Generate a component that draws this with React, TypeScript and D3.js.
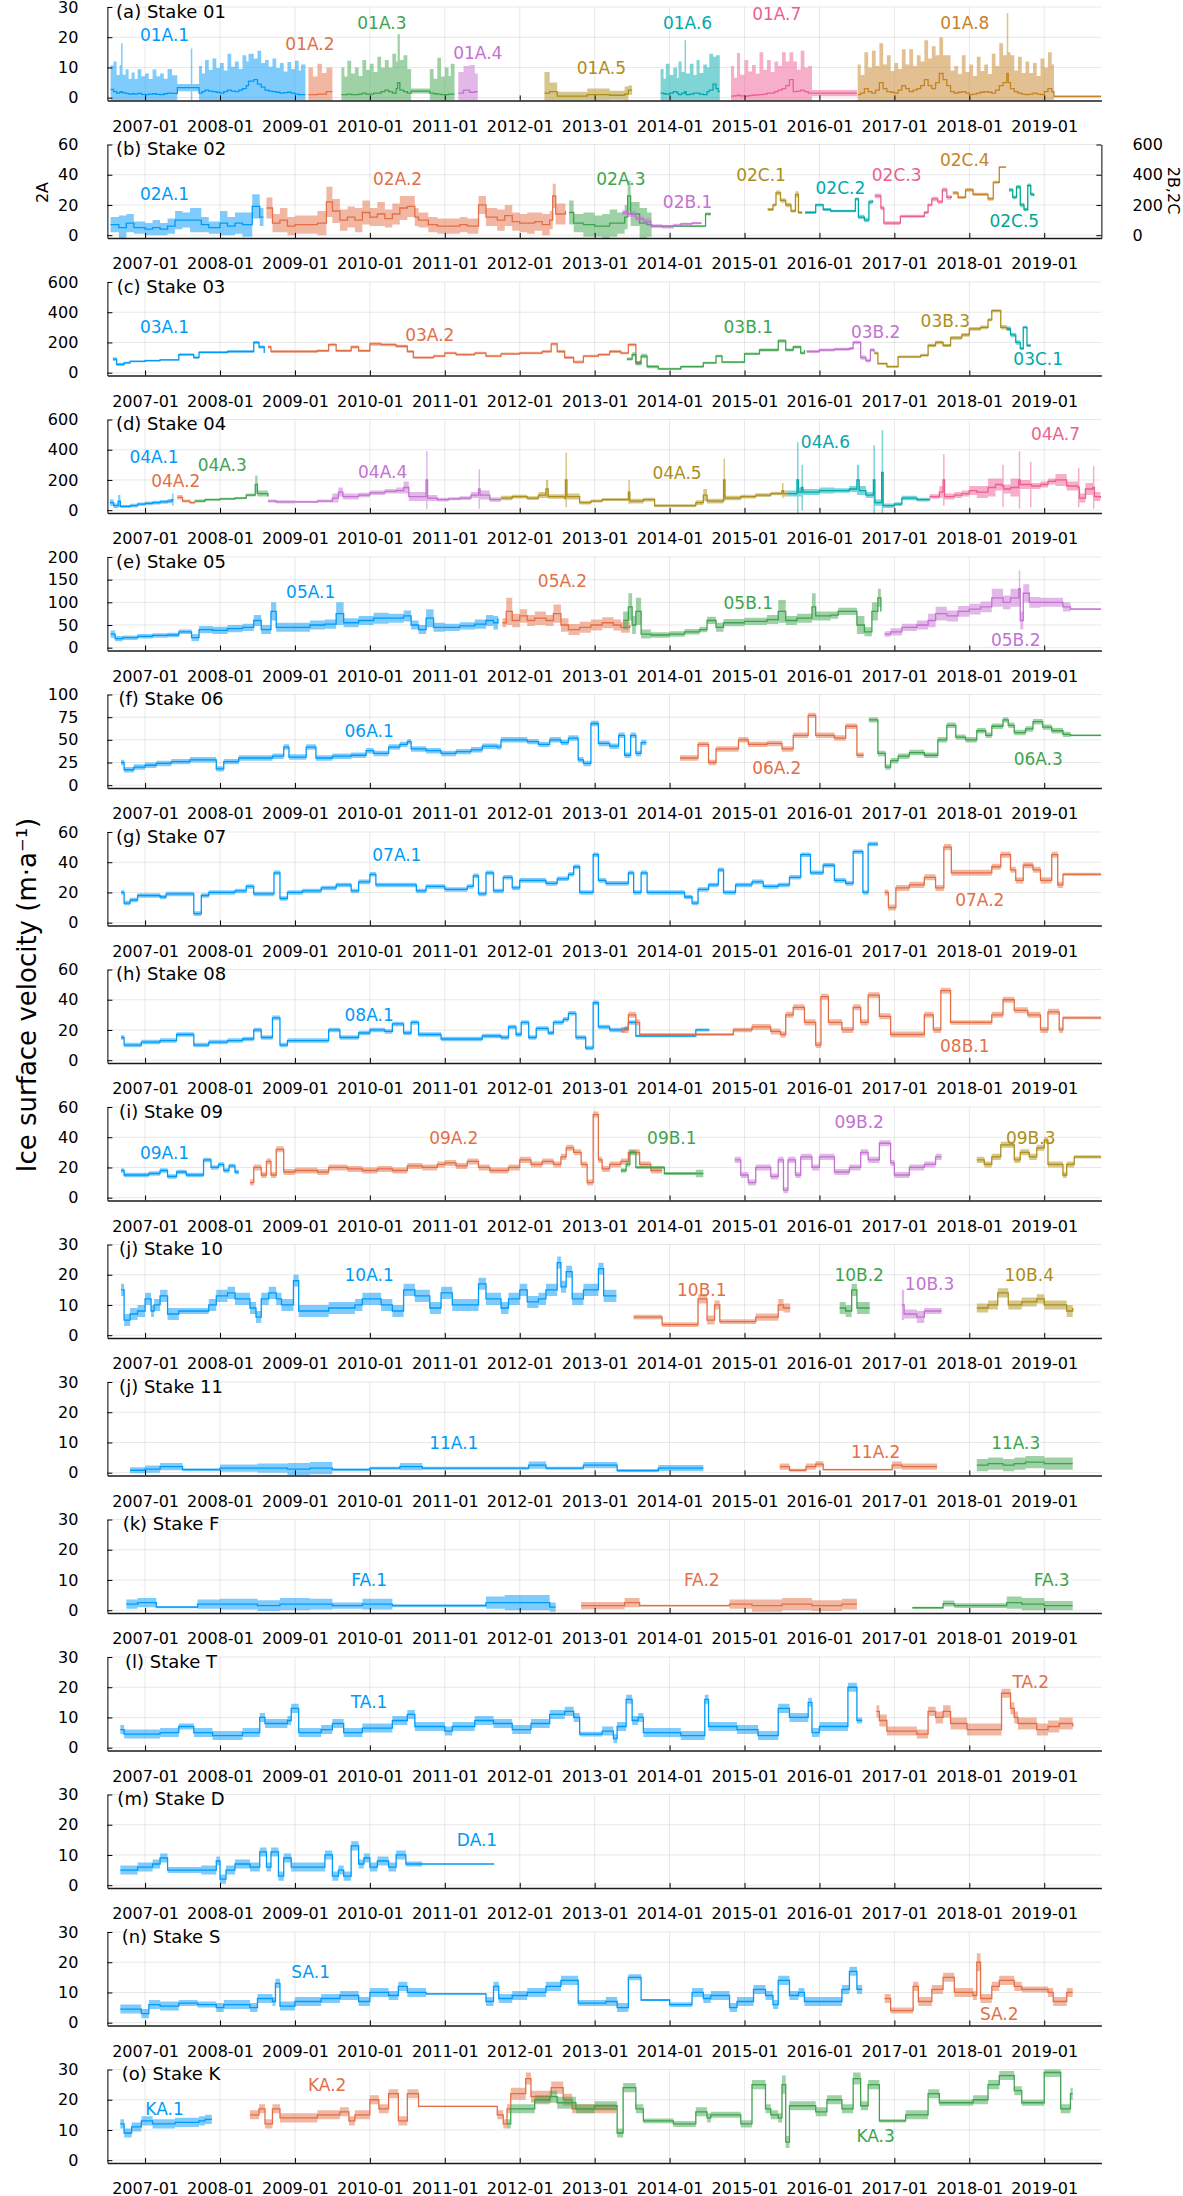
import { useEffect, useRef } from 'react'
import * as d3 from 'd3'

// Plots.jl default palette, in series order
const PALETTE = ['#009afa', '#e36f47', '#3ea44e', '#c371d2', '#ac8e18', '#00a9ad', '#ed5e93', '#c68225', '#00a98d']

const yearTicks = d3.range(2007, 2020)

// Each row: [decimal year, velocity, half-width of the shaded band]
// ---- Stake 01 ----
const s01A1 = [[2006.54,2.7,8],[2006.58,2,10],[2006.62,1.5,6],[2006.66,1.8,9],[2006.68,2,16],[2006.7,1.6,6],[2006.74,1.4,8],[2006.78,1.2,5],[2006.82,1.3,7],[2006.86,1.2,5],[2006.9,1.4,8],[2006.95,1.1,6],[2007.0,1,7],[2007.05,1.2,5],[2007.1,1.3,8],[2007.15,1.1,6],[2007.2,1,7],[2007.25,1.3,5],[2007.3,1.5,8],[2007.36,1.4,6],[2007.43,3.3,1.2],[2007.61,3.3,13],[2007.63,3.3,1.2],[2007.72,1.5,9],[2007.76,2,6],[2007.8,2.5,10],[2007.85,2.2,7],[2007.9,2,11],[2007.95,1.8,8],[2008.0,1.5,10],[2008.05,2,7],[2008.1,2.5,12],[2008.15,2.2,8],[2008.2,2,10],[2008.25,2.5,7],[2008.3,3,11],[2008.35,4,8],[2008.38,5.5,9],[2008.45,6,7],[2008.5,4.5,11],[2008.55,3.5,8],[2008.6,2.5,10],[2008.65,2.2,8],[2008.7,2,11],[2008.75,1.8,8],[2008.8,1.5,10],[2008.85,1.7,7],[2008.9,1.8,10],[2008.95,1.5,8],[2009.0,1.2,11],[2009.05,1,8],[2009.08,1,10],[2009.14,1,9]]
const s01A2 = [[2009.18,1,9],[2009.24,1,6],[2009.3,1.2,10],[2009.36,1.2,7],[2009.42,2,8],[2009.5,2,8]]
const s01A3 = [[2009.62,1,9],[2009.66,1,6],[2009.7,1.2,11],[2009.75,1,7],[2009.8,1,9],[2009.85,1.2,6],[2009.9,1.5,11],[2009.95,1.2,8],[2010.0,1.2,10],[2010.05,1.5,7],[2010.1,1.5,12],[2010.15,2,8],[2010.2,2.5,10],[2010.25,2,8],[2010.3,1.5,13],[2010.35,3,9],[2010.37,5,16],[2010.4,2.5,10],[2010.45,2,12],[2010.5,1.5,8],[2010.55,2.2,0.8],[2010.8,1.5,8],[2010.85,1.3,5],[2010.9,1.2,12],[2010.95,1,6],[2011.0,1,9],[2011.05,1.2,6],[2011.08,1.2,10],[2011.13,1.2,10]]
const s01A4 = [[2011.18,1.5,7],[2011.25,2.5,8],[2011.33,1.8,9],[2011.4,2,6],[2011.44,2,6]]
const s01A5 = [[2012.33,1.5,7],[2012.4,2,3],[2012.5,0.5,1.5],[2012.8,0.5,1.5],[2012.9,1,2],[2013.2,0.8,1.5],[2013.4,1.2,2.5],[2013.45,2.5,1.5],[2013.5,2.5,1.5]]
const s01A6 = [[2013.88,1.5,8],[2013.92,1.3,5],[2013.95,1.2,10],[2014.0,1.5,6],[2014.05,2,8],[2014.1,1.5,5],[2014.12,1,11],[2014.16,1.5,7],[2014.2,2,17],[2014.22,1,7],[2014.27,1.2,10],[2014.32,1.5,6],[2014.36,1.5,11],[2014.4,1.2,7],[2014.45,1,10],[2014.5,2,8],[2014.53,2.5,12],[2014.58,4.5,9],[2014.62,3,11],[2014.65,2,12],[2014.67,2,12]]
const s01A7 = [[2014.82,0.5,10],[2014.86,0.6,6],[2014.9,0.8,14],[2014.94,0.6,7],[2015.0,0.5,12],[2015.05,0.7,8],[2015.1,0.8,10],[2015.15,0.9,7],[2015.2,1,14],[2015.25,1.2,8],[2015.3,1.5,11],[2015.35,1.5,7],[2015.4,2,10],[2015.45,2.5,8],[2015.5,3,12],[2015.55,4,8],[2015.6,6,9],[2015.65,2,10],[2015.7,2.2,7],[2015.75,2.5,13],[2015.8,2,8],[2015.85,1.5,9],[2015.9,1.5,1],[2016.5,1.5,1]]
const s01A8 = [[2016.51,1,10],[2016.55,1.5,6],[2016.6,3,12],[2016.65,2,8],[2016.7,1.5,14],[2016.75,2.5,8],[2016.8,5,13],[2016.85,3,8],[2016.9,2,12],[2016.95,1.8,7],[2017.0,1.5,10],[2017.05,2.5,7],[2017.1,4,12],[2017.15,3,8],[2017.2,2,14],[2017.25,2.5,8],[2017.3,3,11],[2017.35,4,8],[2017.4,6,13],[2017.45,4,9],[2017.5,3,14],[2017.55,5,9],[2017.6,8,12],[2017.65,6,8],[2017.7,4,10],[2017.75,2,7],[2017.8,1.5,9],[2017.85,1.8,6],[2017.9,2,12],[2017.95,1.5,7],[2018.0,1,10],[2018.05,1.2,6],[2018.1,1.5,12],[2018.15,1.8,7],[2018.2,2,9],[2018.25,1.8,6],[2018.3,1.5,13],[2018.35,2.5,8],[2018.4,4,14],[2018.45,5,9],[2018.5,8,20],[2018.52,5,10],[2018.55,3,11],[2018.6,2,7],[2018.65,1.5,12],[2018.7,1.2,7],[2018.75,1,11],[2018.8,1.2,7],[2018.85,1.5,10],[2018.9,1.2,6],[2018.95,1,12],[2019.0,2,8],[2019.05,3,12],[2019.1,2,9],[2019.13,0.4,0.3],[2019.76,0.4,0.3]]

// ---- Stake 02 (2A on left axis, 2B/2C on right axis) ----
const s02A1 = [[2006.54,7,5],[2006.65,5,8],[2006.75,8,6],[2006.85,5,4],[2007.0,4,4],[2007.1,5,5],[2007.2,4,4],[2007.3,6,5],[2007.4,10,6],[2007.5,10,5],[2007.6,10,8],[2007.75,7,5],[2007.85,5,4],[2008.0,8,8],[2008.1,6,6],[2008.2,8,7],[2008.3,7,8],[2008.43,19,8],[2008.53,12,6],[2008.58,12,6]]
const s02A2 = [[2008.62,18,7],[2008.7,8,6],[2008.8,10,8],[2008.9,6,6],[2009.0,7,6],[2009.1,7,6],[2009.2,7,6],[2009.3,8,8],[2009.42,22,10],[2009.5,16,8],[2009.6,10,7],[2009.7,12,7],[2009.8,10,8],[2009.9,15,8],[2010.0,12,6],[2010.1,14,8],[2010.2,11,6],[2010.3,14,7],[2010.4,18,8],[2010.5,19,7],[2010.6,12,6],[2010.65,10,5],[2010.78,7,5],[2010.9,6,5],[2011.0,6,5],[2011.1,6,5],[2011.2,7,5],[2011.3,6,5],[2011.45,20,6],[2011.55,12,6],[2011.7,10,7],[2011.8,13,7],[2011.9,9,6],[2012.0,8,6],[2012.1,8,7],[2012.2,9,6],[2012.3,7,7],[2012.4,10,6],[2012.44,26,8],[2012.48,14,7],[2012.61,16,4]]
const s02A3 = [[2012.66,15,8],[2012.72,8,6],[2012.85,7,8],[2013.0,6,7],[2013.1,6,8],[2013.2,8,9],[2013.3,8,7],[2013.4,12,8],[2013.44,26,10],[2013.48,14,8],[2013.6,8,10],[2013.7,7,8],[2013.76,6,0.6],[2014.48,14,1],[2014.55,14,1]]
const s02B1 = [[2013.37,150,15],[2013.45,140,20],[2013.55,110,15],[2013.65,90,20],[2013.75,60,12],[2013.9,55,10],[2014.05,65,10],[2014.15,75,8],[2014.3,80,8],[2014.42,75,8]]
const s02C1 = [[2015.31,170,10],[2015.38,200,10],[2015.42,280,15],[2015.48,230,15],[2015.55,200,15],[2015.62,160,10],[2015.68,270,20],[2015.72,150,10],[2015.77,150,10]]
const s02C2 = [[2015.81,150,10],[2015.95,200,10],[2016.05,170,10],[2016.15,160,8],[2016.48,240,10],[2016.52,120,15],[2016.6,100,15],[2016.66,220,15],[2016.71,230,10]]
const s02C3 = [[2016.74,260,15],[2016.82,180,15],[2016.86,80,12],[2017.08,125,10],[2017.4,150,10],[2017.45,200,10],[2017.5,240,15],[2017.58,220,12],[2017.64,300,15],[2017.7,250,15],[2017.76,260,10]]
const s02C4 = [[2017.78,280,12],[2017.85,250,10],[2017.95,300,12],[2018.05,270,10],[2018.25,240,12],[2018.32,350,10],[2018.4,450,6],[2018.49,450,6]]
const s02C5 = [[2018.53,300,12],[2018.58,250,12],[2018.63,320,12],[2018.68,200,15],[2018.73,170,12],[2018.78,330,12],[2018.82,270,12],[2018.86,260,10]]

// ---- Stake 03 ----
const s03A1 = [[2006.57,90,12],[2006.62,55,10],[2006.72,65,8],[2006.8,75,6],[2007.0,80,6],[2007.2,85,6],[2007.45,120,8],[2007.65,100,8],[2007.72,135,8],[2007.9,135,8],[2008.1,140,8],[2008.3,140,8],[2008.45,200,10],[2008.52,170,10],[2008.59,130,8]]
const s03A2 = [[2008.64,170,10],[2008.68,140,8],[2009.0,140,8],[2009.3,145,8],[2009.45,185,10],[2009.55,145,8],[2009.75,170,10],[2009.85,145,8],[2010.0,190,12],[2010.15,185,10],[2010.35,175,10],[2010.5,140,8],[2010.58,100,8],[2010.85,110,8],[2011.0,130,8],[2011.15,120,8],[2011.4,130,8],[2011.55,110,8],[2011.75,125,8],[2012.0,130,8],[2012.3,140,8],[2012.42,190,10],[2012.5,140,10],[2012.6,100,10],[2012.72,70,10],[2012.85,110,8],[2013.05,120,8],[2013.2,140,10],[2013.35,130,8],[2013.45,185,10],[2013.55,70,8],[2013.61,80,8]]
const s03B1 = [[2013.43,90,10],[2013.5,120,15],[2013.55,60,12],[2013.62,110,15],[2013.7,40,10],[2013.85,25,8],[2014.15,40,8],[2014.45,65,8],[2014.62,110,8],[2014.7,70,8],[2015.0,125,8],[2015.2,150,10],[2015.45,210,12],[2015.55,150,10],[2015.65,170,10],[2015.75,130,10],[2015.8,150,10]]
const s03B2 = [[2015.83,140,10],[2016.0,150,10],[2016.2,155,10],[2016.4,160,10],[2016.45,200,12],[2016.55,100,15],[2016.62,80,12],[2016.68,150,12],[2016.73,140,10]]
const s03B3 = [[2016.73,130,10],[2016.78,60,8],[2016.9,40,8],[2017.05,105,8],[2017.35,115,10],[2017.45,180,12],[2017.55,200,12],[2017.65,180,10],[2017.75,230,12],[2017.9,250,12],[2018.0,290,12],[2018.15,300,12],[2018.25,350,10],[2018.3,410,10],[2018.42,300,15],[2018.5,290,10],[2018.55,290,10]]
const s03C1 = [[2018.5,290,15],[2018.55,250,15],[2018.62,200,15],[2018.68,160,10],[2018.72,300,10],[2018.77,180,10],[2018.82,180,10]]

// ---- Stake 04 ----
const s04A1 = [[2006.53,50,20],[2006.58,30,15],[2006.64,60,40],[2006.67,25,10],[2006.8,30,12],[2006.9,40,10],[2007.0,45,12],[2007.1,50,12],[2007.2,55,12],[2007.3,60,14],[2007.36,70,40],[2007.38,70,10]]
const s04A2 = [[2007.43,85,15],[2007.5,60,10],[2007.6,50,8],[2007.66,55,8]]
const s04A3 = [[2007.66,60,10],[2007.8,70,8],[2008.0,75,8],[2008.2,80,8],[2008.35,100,10],[2008.47,170,60],[2008.5,110,20],[2008.64,90,10]]
const s04A4 = [[2008.64,60,10],[2008.75,55,10],[2009.0,55,8],[2009.3,60,10],[2009.5,80,30],[2009.58,120,30],[2009.64,90,20],[2009.85,100,15],[2010.0,115,15],[2010.2,125,15],[2010.35,130,20],[2010.45,150,40],[2010.52,90,30],[2010.75,200,190],[2010.77,80,20],[2010.9,70,12],[2011.05,75,10],[2011.2,80,12],[2011.35,100,20],[2011.45,140,130],[2011.47,100,30],[2011.6,70,15],[2011.75,70,15]]
const s04A5 = [[2011.75,80,15],[2011.9,90,12],[2012.1,80,12],[2012.25,100,20],[2012.35,140,60],[2012.38,90,15],[2012.6,80,15],[2012.61,200,180],[2012.63,90,20],[2012.8,50,12],[2012.95,60,10],[2013.1,70,10],[2013.3,70,10],[2013.45,120,80],[2013.47,60,15],[2013.65,70,12],[2013.8,30,10],[2014.1,30,10],[2014.35,50,15],[2014.45,100,40],[2014.5,60,15],[2014.72,200,140],[2014.74,80,15],[2014.95,90,12],[2015.15,100,12],[2015.35,110,12],[2015.5,130,50],[2015.52,110,20],[2015.57,110,20]]
const s04A6 = [[2015.57,110,20],[2015.7,200,250],[2015.72,120,30],[2015.76,150,150],[2015.78,120,20],[2015.9,120,20],[2016.0,130,20],[2016.2,130,15],[2016.4,140,20],[2016.5,200,100],[2016.53,130,30],[2016.62,100,20],[2016.72,200,230],[2016.74,50,20],[2016.83,250,280],[2016.85,30,15],[2017.0,40,12],[2017.1,80,15],[2017.3,70,12],[2017.47,75,12]]
const s04A7 = [[2017.47,90,15],[2017.6,120,40],[2017.65,200,170],[2017.67,90,20],[2017.8,100,20],[2017.9,110,20],[2018.0,130,30],[2018.1,120,40],[2018.25,150,60],[2018.35,170,40],[2018.44,160,140],[2018.46,140,30],[2018.55,150,60],[2018.66,200,190],[2018.68,170,30],[2018.81,170,150],[2018.83,160,20],[2018.95,170,20],[2019.05,190,20],[2019.15,200,40],[2019.3,160,30],[2019.45,150,130],[2019.47,80,30],[2019.55,140,40],[2019.65,150,140],[2019.67,90,30],[2019.75,80,20]]

// ---- Stake 05 ----
const s05A1 = [[2006.54,30,8],[2006.6,20,6],[2006.7,22,5],[2006.9,25,5],[2007.1,27,5],[2007.3,28,5],[2007.45,35,5],[2007.62,22,8],[2007.72,40,8],[2007.9,38,8],[2008.1,42,8],[2008.3,45,8],[2008.45,60,12],[2008.55,40,10],[2008.68,80,20],[2008.75,45,10],[2009.0,45,10],[2009.2,50,10],[2009.4,52,10],[2009.55,75,25],[2009.65,55,10],[2009.85,60,10],[2010.05,65,12],[2010.25,65,10],[2010.45,70,12],[2010.55,50,10],[2010.65,40,10],[2010.75,65,20],[2010.85,45,10],[2011.0,45,8],[2011.2,48,8],[2011.4,52,10],[2011.55,60,12],[2011.65,55,15],[2011.71,65,10]]
const s05A2 = [[2011.77,55,10],[2011.82,80,30],[2011.9,60,15],[2012.0,70,15],[2012.1,60,12],[2012.2,65,15],[2012.35,60,12],[2012.45,75,20],[2012.55,50,15],[2012.65,40,12],[2012.8,45,12],[2012.95,50,12],[2013.1,55,12],[2013.25,50,12],[2013.35,45,12],[2013.47,50,12]]
const s05B1 = [[2013.38,60,20],[2013.45,90,30],[2013.5,50,20],[2013.55,80,30],[2013.62,30,10],[2013.75,28,6],[2014.0,30,6],[2014.2,35,6],[2014.4,40,6],[2014.5,60,8],[2014.62,45,10],[2014.72,55,8],[2015.0,58,8],[2015.3,62,10],[2015.45,80,25],[2015.55,60,10],[2015.7,65,10],[2015.9,90,30],[2015.95,70,10],[2016.15,72,8],[2016.25,80,8],[2016.5,50,20],[2016.6,35,10],[2016.7,80,20],[2016.78,110,20],[2016.82,80,20]]
const s05B2 = [[2016.87,30,6],[2016.95,35,8],[2017.1,45,8],[2017.3,50,10],[2017.45,60,15],[2017.55,75,15],[2017.7,70,12],[2017.85,80,12],[2018.0,85,12],[2018.15,90,12],[2018.3,110,20],[2018.45,100,15],[2018.55,110,20],[2018.66,130,40],[2018.68,60,20],[2018.72,120,20],[2018.8,100,12],[2018.95,100,10],[2019.1,100,10],[2019.25,90,10],[2019.35,85,2],[2019.76,85,2]]

// ---- Stake 06 ----
const s06A1 = [[2006.68,25,3],[2006.72,17,3],[2006.85,20,3],[2007.0,22,3],[2007.15,24,3],[2007.35,26,3],[2007.6,28,3],[2007.95,18,3],[2008.05,26,3],[2008.25,30,3],[2008.45,30,3],[2008.7,32,3],[2008.85,42,3],[2008.92,31,3],[2009.15,42,3],[2009.28,30,3],[2009.5,32,3],[2009.75,33,3],[2009.95,38,3],[2010.05,35,3],[2010.25,42,3],[2010.4,45,3],[2010.5,48,3],[2010.55,40,3],[2010.75,38,3],[2010.95,35,3],[2011.15,37,3],[2011.35,39,3],[2011.5,43,3],[2011.7,42,3],[2011.75,50,3],[2011.9,50,3],[2012.1,48,3],[2012.25,45,3],[2012.4,50,3],[2012.55,47,3],[2012.65,52,3],[2012.78,28,3],[2012.85,24,3],[2012.95,68,3],[2013.05,46,3],[2013.2,43,3],[2013.32,55,3],[2013.4,33,3],[2013.48,55,3],[2013.55,35,3],[2013.62,47,3],[2013.69,47,3]]
const s06A2 = [[2014.14,30,3],[2014.38,45,3],[2014.52,25,3],[2014.62,40,3],[2014.92,50,3],[2015.05,45,3],[2015.3,46,3],[2015.5,40,3],[2015.65,55,3],[2015.85,77,3],[2015.95,55,3],[2016.2,52,3],[2016.35,65,3],[2016.5,33,3],[2016.59,33,3]]
const s06A3 = [[2016.66,72,3],[2016.78,35,3],[2016.88,20,3],[2016.95,27,3],[2017.05,32,3],[2017.2,36,3],[2017.4,33,3],[2017.58,50,3],[2017.7,66,3],[2017.82,53,3],[2017.95,50,3],[2018.1,60,3],[2018.22,55,3],[2018.3,65,3],[2018.45,72,3],[2018.52,66,3],[2018.6,58,3],[2018.75,62,3],[2018.85,70,3],[2018.98,64,3],[2019.1,60,3],[2019.25,56,3],[2019.35,55,1],[2019.76,55,1]]

// ---- Stake 07 ----
const s07A1 = [[2006.68,20,1.5],[2006.72,13,1.5],[2006.8,15,1.5],[2006.9,18,1.5],[2007.2,17,1.5],[2007.28,19,1.5],[2007.65,6,1.5],[2007.75,18,1.5],[2007.85,20,1.5],[2008.2,21,1.5],[2008.35,24,1.5],[2008.45,19,1.5],[2008.72,33,1.5],[2008.8,16,1.5],[2008.9,20,1.5],[2009.1,21,1.5],[2009.35,23,1.5],[2009.55,25,1.5],[2009.75,21,1.5],[2009.85,27,1.5],[2010.0,32,1.5],[2010.08,25,1.5],[2010.45,25,1.5],[2010.62,21,1.5],[2010.75,24,1.5],[2011.0,22,1.5],[2011.3,24,1.5],[2011.38,31,1.5],[2011.45,19,1.5],[2011.55,33,1.5],[2011.65,21,1.5],[2011.78,30,1.5],[2011.9,23,1.5],[2012.0,28,1.5],[2012.2,28,1.5],[2012.35,26,1.5],[2012.5,29,1.5],[2012.65,32,1.5],[2012.72,37,1.5],[2012.8,20,1.5],[2012.98,45,1.5],[2013.05,28,1.5],[2013.15,26,1.5],[2013.45,33,1.5],[2013.52,20,1.5],[2013.62,33,1.5],[2013.7,20,1.5],[2014.0,20,1.5],[2014.2,17,1.5],[2014.3,13,1.5],[2014.38,22,1.5],[2014.52,25,1.5],[2014.65,35,1.5],[2014.72,20,1.5],[2014.88,25,1.5],[2015.1,27,1.5],[2015.25,24,1.5],[2015.45,25,1.5],[2015.6,30,1.5],[2015.75,45,1.5],[2015.88,33,1.5],[2016.05,38,1.5],[2016.2,28,1.5],[2016.35,26,1.5],[2016.45,47,1.5],[2016.58,20,1.5],[2016.65,52,1.5],[2016.78,52,1.5]]
const s07A2 = [[2016.87,20,2],[2016.92,10,2],[2017.02,23,2],[2017.2,25,2],[2017.4,30,2],[2017.55,23,2],[2017.66,50,2],[2017.76,33,2],[2018.3,37,2],[2018.42,45,2],[2018.55,35,2],[2018.62,28,2],[2018.72,38,2],[2018.85,35,2],[2018.95,28,2],[2019.1,45,2],[2019.18,25,2],[2019.25,32,1],[2019.76,32,1]]

// ---- Stake 08 ----
const s08A1 = [[2006.68,15,1.5],[2006.72,10,1.5],[2006.95,12,1.5],[2007.2,13,1.5],[2007.42,17,1.5],[2007.65,10,1.5],[2007.85,12,1.5],[2008.1,13,1.5],[2008.3,14,1.5],[2008.45,20,1.5],[2008.55,15,1.5],[2008.7,28,1.5],[2008.8,10,1.5],[2008.9,13,1.5],[2009.2,13,1.5],[2009.45,20,1.5],[2009.6,15,1.5],[2009.85,18,1.5],[2010.0,20,1.5],[2010.2,19,1.5],[2010.3,24,1.5],[2010.45,18,1.5],[2010.55,25,1.5],[2010.65,17,1.5],[2010.95,14,1.5],[2011.3,14,1.5],[2011.5,16,1.5],[2011.75,15,1.5],[2011.85,22,1.5],[2011.95,17,1.5],[2012.02,25,1.5],[2012.12,15,1.5],[2012.22,21,1.5],[2012.38,18,1.5],[2012.45,25,1.5],[2012.58,27,1.5],[2012.65,31,1.5],[2012.75,15,1.5],[2012.88,8,1.5],[2012.98,38,1.5],[2013.05,22,1.5],[2013.2,20,1.5],[2013.4,21,1.5],[2013.45,25,1.5],[2013.55,16,0.8],[2014.3,16,0.8],[2014.35,20,1],[2014.53,20,1]]
const s08B1 = [[2013.35,20,2],[2013.45,30,2],[2013.55,25,2],[2013.6,17,0.8],[2014.85,20,1.5],[2015.1,22,2],[2015.35,19,2],[2015.48,17,2],[2015.55,30,2],[2015.65,35,2],[2015.8,25,2],[2015.95,10,2],[2016.02,42,2],[2016.12,25,2],[2016.3,20,2],[2016.45,35,2],[2016.55,25,2],[2016.65,43,2],[2016.8,29,2],[2016.95,17,2],[2017.4,30,2],[2017.52,20,2],[2017.62,46,2],[2017.75,25,1.5],[2018.3,30,2],[2018.45,40,2],[2018.6,33,2],[2018.78,30,2],[2018.95,20,2],[2019.05,32,2],[2019.2,20,2],[2019.25,28,1],[2019.76,28,1]]

// ---- Stake 09 ----
const s09A1 = [[2006.68,18,1.5],[2006.72,15,1.5],[2007.05,16,1.5],[2007.2,18,1.5],[2007.3,14,1.5],[2007.42,17,1.5],[2007.55,15,1.5],[2007.72,15,1.5],[2007.78,25,1.5],[2007.88,20,1.5],[2007.98,22,1.5],[2008.05,18,1.5],[2008.12,21,1.5],[2008.2,17,1.5],[2008.25,17,1.5]]
const s09A2 = [[2008.4,10,2],[2008.45,20,2],[2008.55,15,2],[2008.62,24,2],[2008.68,15,2],[2008.75,32,2],[2008.85,17,2],[2009.0,18,2],[2009.3,17,2],[2009.45,20,2],[2009.7,19,2],[2009.9,18,2],[2010.1,19,2],[2010.3,18,2],[2010.5,21,2],[2010.7,20,2],[2010.9,22,2],[2011.0,23,2],[2011.15,21,2],[2011.3,24,2],[2011.45,20,2],[2011.6,18,2],[2011.85,20,2],[2012.0,25,2],[2012.15,22,2],[2012.3,24,2],[2012.45,22,2],[2012.55,27,2],[2012.62,33,2],[2012.72,30,2],[2012.82,22,2],[2012.9,10,2],[2012.98,55,2],[2013.05,25,2],[2013.1,19,2],[2013.2,22,2],[2013.35,24,2],[2013.45,30,2],[2013.6,22,2],[2013.75,18,2],[2013.9,18,2]]
const s09B1 = [[2013.35,18,1.5],[2013.42,22,1.5],[2013.47,30,1.5],[2013.55,20,1],[2013.93,16,1],[2014.35,16,2.5],[2014.45,16,2.5]]
const s09B2 = [[2014.87,25,2],[2014.95,15,2],[2015.05,10,2],[2015.15,20,2],[2015.35,14,2],[2015.45,25,2],[2015.52,5,2],[2015.58,25,2],[2015.68,15,2],[2015.75,27,2],[2015.9,20,2],[2016.0,27,2],[2016.2,17,2],[2016.4,20,2],[2016.55,30,2],[2016.65,25,2],[2016.8,36,2],[2016.95,23,2],[2017.0,15,2],[2017.2,20,2],[2017.4,22,2],[2017.55,27,2],[2017.63,27,2]]
const s09B3 = [[2018.1,25,2],[2018.2,22,2],[2018.3,27,2],[2018.42,35,2],[2018.6,25,2],[2018.68,30,2],[2018.8,27,2],[2018.9,33,2],[2019.0,38,2],[2019.05,22,2],[2019.25,15,2],[2019.3,22,2],[2019.4,27,1],[2019.76,27,1]]

// ---- Stake 10 ----
const s10A1 = [[2006.68,15,2],[2006.72,5,2],[2006.8,7,2],[2006.9,8,2],[2007.0,12,2],[2007.08,8,2],[2007.12,10,2],[2007.2,13,2],[2007.3,7,2],[2007.45,8,1],[2007.85,10,2],[2007.95,13,2],[2008.1,14,2],[2008.2,12,2],[2008.4,9,2],[2008.48,6,2],[2008.55,12,2],[2008.65,14,2],[2008.75,12,2],[2008.82,10,2],[2008.98,18,2],[2009.05,8,2],[2009.45,9,2],[2009.7,9,2],[2009.8,10,2],[2009.9,12,2],[2010.15,10,2],[2010.3,8,2],[2010.45,15,2],[2010.6,13,2],[2010.8,9,2],[2010.95,14,2],[2011.1,10,2],[2011.35,10,2],[2011.45,17,2],[2011.55,12,2],[2011.75,9,2],[2011.85,12,2],[2012.0,15,2],[2012.1,11,2],[2012.25,12,2],[2012.35,15,2],[2012.5,24,2],[2012.55,16,2],[2012.62,21,2],[2012.7,12,2],[2012.85,15,2],[2013.05,22,2],[2013.12,13,2],[2013.29,13,2]]
const s10B1 = [[2013.52,6,0.8],[2013.9,3.5,0.8],[2014.38,12,1.5],[2014.5,5,1.5],[2014.6,10,1.5],[2014.67,4.5,0.8],[2015.15,6,1.2],[2015.45,10,2],[2015.52,9,1.5],[2015.61,9,1.5]]
const s10B2 = [[2016.27,9,2],[2016.35,8,2],[2016.43,15,2],[2016.5,9,2],[2016.6,9,2],[2016.67,9,2]]
const s10B3 = [[2017.1,10,5],[2017.13,7,1.5],[2017.3,6,2],[2017.4,8,1],[2017.63,8,1]]
const s10B4 = [[2018.1,9,1.5],[2018.25,10,1.5],[2018.38,14,1.5],[2018.52,10,1.5],[2018.7,11,1.5],[2018.9,12,1.5],[2019.0,10,1.5],[2019.3,8,2],[2019.38,9,2]]

// ---- Stake 11 ----
const s11A1 = [[2006.8,0.8,1],[2007.0,1.2,1.2],[2007.2,2,1.2],[2007.5,1,0.5],[2008.0,1.5,1.2],[2008.5,1.5,1.5],[2008.9,1.2,2],[2009.2,1.5,2],[2009.5,1,0.5],[2010.0,1.5,0.5],[2010.4,2,1.2],[2010.7,1.5,0.5],[2012.12,2.5,1.2],[2012.35,1.5,0.5],[2012.85,2.5,1],[2013.3,0.7,0.5],[2013.85,1.5,1],[2014.45,1.5,1]]
const s11A2 = [[2015.47,2,1],[2015.6,0.8,0.5],[2015.82,2,1],[2015.95,2.8,1],[2016.05,1,0.3],[2016.97,2.5,1.2],[2017.1,2,1],[2017.57,2,1]]
const s11A3 = [[2018.1,2.5,2],[2018.25,3,2],[2018.45,2.5,2],[2018.6,3,2],[2018.75,3.5,2],[2019.0,3,2],[2019.2,3,2],[2019.38,3,2]]

// ---- Stake F ----
const sFA1 = [[2006.75,2,1.5],[2006.9,2.5,1.5],[2007.15,1,0.4],[2007.7,2,1.5],[2008.0,2,1.8],[2008.5,1.5,1.8],[2008.8,2,2],[2009.2,2,1.8],[2009.5,1.5,1],[2009.9,2,1.8],[2010.3,1.5,0.5],[2011.55,2.5,2],[2011.8,2.5,2.5],[2012.2,2.5,2.5],[2012.4,1,1.5],[2012.48,1,1.5]]
const sFA2 = [[2012.82,1.5,1.2],[2013.0,1.5,1.2],[2013.4,2.5,1.5],[2013.6,1.5,0.3],[2014.8,2,1.5],[2015.1,1.5,2],[2015.5,2,2],[2015.9,1.5,1.8],[2016.3,2,1.8],[2016.5,2,1.8]]
const sFA3 = [[2017.24,0.8,0.3],[2017.65,2.2,1],[2017.8,1.5,0.8],[2018.2,1.5,0.8],[2018.5,2.5,2],[2018.7,2,2],[2019.0,1.5,1.5],[2019.38,1.5,1.5]]

// ---- Stake T ----
const sTA1 = [[2006.67,6,1.5],[2006.72,4.5,1.5],[2007.2,5,1.5],[2007.45,7,1],[2007.65,5,1.5],[2007.9,4,1.5],[2008.3,5,1.5],[2008.53,10,1.5],[2008.6,8,1.5],[2008.9,9,1.5],[2008.95,13,1.5],[2009.05,5,1.5],[2009.35,6,1.5],[2009.5,8,1.5],[2009.65,5,1.5],[2009.9,6.5,1.5],[2010.3,9,1.5],[2010.5,11,1.5],[2010.6,7,1.5],[2011.0,5.5,1.5],[2011.1,7,1.5],[2011.4,9,1.5],[2011.65,8,1.5],[2011.9,6,1.5],[2012.15,8,1.5],[2012.4,11,1.5],[2012.6,12,1.5],[2012.72,10,1.5],[2012.8,4.5,0.8],[2013.1,5.5,1.5],[2013.25,3,1.5],[2013.3,7,1.5],[2013.42,16,1.5],[2013.5,9,1.5],[2013.58,10,1.5],[2013.65,5,1.5],[2014.15,4,1.5],[2014.47,16,1.5],[2014.52,7,1.5],[2014.9,6,1.5],[2015.18,4,1.5],[2015.45,13,1.5],[2015.6,10,1.5],[2015.85,15,1.5],[2015.9,5,1.5],[2016.0,7,1.5],[2016.38,20,1.5],[2016.5,9,1],[2016.57,9,1]]
const sTA2 = [[2016.76,12,2],[2016.8,9,2],[2016.9,5.5,1.5],[2017.3,4.5,1.5],[2017.45,12,1.5],[2017.55,10,2],[2017.65,12,2],[2017.75,8,2],[2017.97,6,2],[2018.43,18,1.5],[2018.55,13,2],[2018.6,10,2],[2018.65,8,2],[2018.9,6,2],[2019.05,7,2],[2019.2,8,2],[2019.38,7,2]]

// ---- Stake D ----
const sDA1 = [[2006.67,5,1.5],[2006.9,6,1.5],[2007.1,7,1.5],[2007.2,9,1.5],[2007.3,5,1],[2007.75,5,1.5],[2007.95,8,1.5],[2008.0,2,1.5],[2008.08,5,1.5],[2008.2,7,1.5],[2008.4,6,1.5],[2008.53,11,1.5],[2008.62,6,1.5],[2008.68,11,1.5],[2008.78,3,1.5],[2008.85,9,1.5],[2008.95,6,1.5],[2009.4,10,1.5],[2009.5,3,1.5],[2009.58,5,1.5],[2009.65,3,1.5],[2009.75,13,1.5],[2009.85,7,1.5],[2009.92,9,1.5],[2010.0,6,1.5],[2010.1,8,1.5],[2010.25,6,1.5],[2010.35,10,1.5],[2010.48,7,0.8],[2010.7,7,0],[2011.66,7,0]]

// ---- Stake S ----
const sSA1 = [[2006.67,4.5,1.5],[2006.95,3,1.5],[2007.05,6,1.5],[2007.2,5.5,1.5],[2007.45,6.5,1],[2007.7,6,1],[2007.95,5,1.5],[2008.05,6,1.5],[2008.4,5,1.5],[2008.5,8,1.5],[2008.7,7,1.5],[2008.74,13,1.5],[2008.8,5.5,1.5],[2009.0,7,1.5],[2009.35,8,1.5],[2009.6,9,1.5],[2009.85,7,1.5],[2010.0,10,1.5],[2010.25,9,1.5],[2010.38,12,1.5],[2010.5,10,1.5],[2010.75,9.5,0.3],[2011.55,7,1.5],[2011.65,12,1.5],[2011.72,8,1.5],[2011.9,9,1.5],[2012.1,10,1.5],[2012.35,12,1.5],[2012.55,14,1.5],[2012.78,6.5,1],[2013.15,7,1.5],[2013.3,5,1.5],[2013.45,15,1],[2013.62,7.5,0.3],[2014.0,6,0.8],[2014.3,10,1.5],[2014.45,8,1.5],[2014.55,9,1.5],[2014.8,5,1.5],[2014.9,7,1.5],[2015.12,11,1.5],[2015.28,9,1.5],[2015.38,6,1.5],[2015.45,14,1.5],[2015.6,9,1.5],[2015.72,10,1.5],[2015.8,7,1.5],[2016.3,11,1.5],[2016.4,17,1.5],[2016.5,11,1.5],[2016.57,11,1.5]]
const sSA2 = [[2016.87,8,1.5],[2016.95,4,1],[2017.25,12,1.5],[2017.32,7,1.5],[2017.5,11,1.5],[2017.65,15,1.5],[2017.8,10,1.5],[2018.05,9,1.5],[2018.1,20,3],[2018.15,8,1.5],[2018.3,12,1.5],[2018.4,14,1.5],[2018.6,12,1.5],[2018.7,11,1],[2019.05,10,1.5],[2019.12,7,1.5],[2019.3,10,1.5],[2019.38,10,1.5]]

// ---- Stake K ----
const sKA1 = [[2006.67,12,1.5],[2006.72,9,1.5],[2006.82,11,1.5],[2006.95,13,1.5],[2007.1,12,1.5],[2007.4,12.5,1.5],[2007.72,13,1.5],[2007.8,13.5,1.5],[2007.89,13.5,1.5]]
const sKA2 = [[2008.4,15,1.5],[2008.52,17,1.5],[2008.6,12,1.5],[2008.7,17,1.5],[2008.8,14,1.5],[2009.3,15,1.5],[2009.6,16,1.5],[2009.72,13,1.5],[2009.8,15,1.5],[2010.0,20,1.5],[2010.12,17,1.5],[2010.25,22,1.5],[2010.38,13,1.5],[2010.5,22,1.5],[2010.65,17.8,0.2],[2011.7,15,1.5],[2011.78,12,1.5],[2011.83,17,1.5],[2011.88,22,2],[2012.08,27,2],[2012.15,21,2],[2012.42,24,2],[2012.58,20,2],[2012.7,17,1.5],[2013.29,17,1.5]]
const sKA3 = [[2011.83,12,1.5],[2011.88,17,1.5],[2012.2,20,1.5],[2012.4,21,2],[2012.5,19,2],[2012.75,17,1.5],[2013.0,18,1.5],[2013.3,9,1.5],[2013.38,24,1.5],[2013.55,17,1.5],[2013.65,13,0.8],[2014.05,12,1],[2014.35,16,1.5],[2014.5,14,1.5],[2014.55,15,1],[2014.95,12,1.2],[2015.1,25,1.5],[2015.28,17,1.5],[2015.35,15,1.5],[2015.45,14,1.5],[2015.5,25,3],[2015.55,6,2],[2015.6,18,1.5],[2015.95,16,1.5],[2016.1,20,1.5],[2016.3,17,1.5],[2016.45,27,2],[2016.55,18,1.5],[2016.65,25,1.5],[2016.8,13,0.5],[2017.15,15,1.5],[2017.45,22,1.5],[2017.6,19,1],[2018.05,20,1.5],[2018.25,25,1.5],[2018.4,28,1.5],[2018.6,23,1.5],[2018.7,19,1],[2019.0,29,1.5],[2019.22,17,1.5],[2019.35,22,2],[2019.38,22,2]]

type Series = { name: string; c: number; data: number[][]; lab: number[]; right?: boolean }
type Panel = { title: string; yMax: number; yTicks: number[]; rMax?: number; rTicks?: number[]; series: Series[] }

const ticks30 = [0, 10, 20, 30]
const ticks60 = [0, 20, 40, 60]
const ticks600 = [0, 200, 400, 600]

// lab = [year, value] where the series name is written
const panels: Panel[] = [
  { title: '(a) Stake 01', yMax: 30, yTicks: ticks30, series: [
    { name: '01A.1', c: 0, data: s01A1, lab: [2007.26, 20.9] },
    { name: '01A.2', c: 1, data: s01A2, lab: [2009.2, 17.9] },
    { name: '01A.3', c: 2, data: s01A3, lab: [2010.16, 24.8] },
    { name: '01A.4', c: 3, data: s01A4, lab: [2011.44, 14.8] },
    { name: '01A.5', c: 4, data: s01A5, lab: [2013.09, 9.7] },
    { name: '01A.6', c: 5, data: s01A6, lab: [2014.24, 24.7] },
    { name: '01A.7', c: 6, data: s01A7, lab: [2015.43, 27.8] },
    { name: '01A.8', c: 7, data: s01A8, lab: [2017.94, 24.7] },
  ] },
  { title: '(b) Stake 02', yMax: 60, yTicks: ticks60, rMax: 600, rTicks: ticks600, series: [
    { name: '02A.1', c: 0, data: s02A1, lab: [2007.26, 27.4] },
    { name: '02A.2', c: 1, data: s02A2, lab: [2010.37, 37] },
    { name: '02A.3', c: 2, data: s02A3, lab: [2013.35, 37] },
    { name: '02B.1', c: 3, data: s02B1, lab: [2014.24, 218], right: true },
    { name: '02C.1', c: 4, data: s02C1, lab: [2015.22, 401], right: true },
    { name: '02C.2', c: 5, data: s02C2, lab: [2016.28, 309], right: true },
    { name: '02C.3', c: 6, data: s02C3, lab: [2017.03, 401], right: true },
    { name: '02C.4', c: 7, data: s02C4, lab: [2017.94, 496], right: true },
    { name: '02C.5', c: 8, data: s02C5, lab: [2018.6, 97], right: true },
  ] },
  { title: '(c) Stake 03', yMax: 600, yTicks: ticks600, series: [
    { name: '03A.1', c: 0, data: s03A1, lab: [2007.26, 300] },
    { name: '03A.2', c: 1, data: s03A2, lab: [2010.8, 249] },
    { name: '03B.1', c: 2, data: s03B1, lab: [2015.05, 300] },
    { name: '03B.2', c: 3, data: s03B2, lab: [2016.75, 271] },
    { name: '03B.3', c: 4, data: s03B3, lab: [2017.68, 344] },
    { name: '03C.1', c: 5, data: s03C1, lab: [2018.92, 93] },
  ] },
  { title: '(d) Stake 04', yMax: 600, yTicks: ticks600, series: [
    { name: '04A.1', c: 0, data: s04A1, lab: [2007.12, 352] },
    { name: '04A.2', c: 1, data: s04A2, lab: [2007.41, 196] },
    { name: '04A.3', c: 2, data: s04A3, lab: [2008.03, 301] },
    { name: '04A.4', c: 3, data: s04A4, lab: [2010.17, 252] },
    { name: '04A.5', c: 4, data: s04A5, lab: [2014.1, 248] },
    { name: '04A.6', c: 5, data: s04A6, lab: [2016.08, 453] },
    { name: '04A.7', c: 6, data: s04A7, lab: [2019.15, 504] },
  ] },
  { title: '(e) Stake 05', yMax: 200, yTicks: [0, 50, 100, 150, 200], series: [
    { name: '05A.1', c: 0, data: s05A1, lab: [2009.21, 123] },
    { name: '05A.2', c: 1, data: s05A2, lab: [2012.57, 148] },
    { name: '05B.1', c: 2, data: s05B1, lab: [2015.05, 98] },
    { name: '05B.2', c: 3, data: s05B2, lab: [2018.62, 18] },
  ] },
  { title: '(f) Stake 06', yMax: 100, yTicks: [0, 25, 50, 75, 100], series: [
    { name: '06A.1', c: 0, data: s06A1, lab: [2009.99, 59.6] },
    { name: '06A.2', c: 1, data: s06A2, lab: [2015.43, 19] },
    { name: '06A.3', c: 2, data: s06A3, lab: [2018.92, 29] },
  ] },
  { title: '(g) Stake 07', yMax: 60, yTicks: ticks60, series: [
    { name: '07A.1', c: 0, data: s07A1, lab: [2010.36, 44.6] },
    { name: '07A.2', c: 1, data: s07A2, lab: [2018.14, 14.8] },
  ] },
  { title: '(h) Stake 08', yMax: 60, yTicks: ticks60, series: [
    { name: '08A.1', c: 0, data: s08A1, lab: [2009.99, 29.7] },
    { name: '08B.1', c: 1, data: s08B1, lab: [2017.94, 9.3] },
  ] },
  { title: '(i) Stake 09', yMax: 60, yTicks: ticks60, series: [
    { name: '09A.1', c: 0, data: s09A1, lab: [2007.26, 29.8] },
    { name: '09A.2', c: 1, data: s09A2, lab: [2011.12, 39.7] },
    { name: '09B.1', c: 2, data: s09B1, lab: [2014.03, 39.7] },
    { name: '09B.2', c: 3, data: s09B2, lab: [2016.53, 49.9] },
    { name: '09B.3', c: 4, data: s09B3, lab: [2018.82, 39.7] },
  ] },
  { title: '(j) Stake 10', yMax: 30, yTicks: ticks30, series: [
    { name: '10A.1', c: 0, data: s10A1, lab: [2009.99, 19.8] },
    { name: '10B.1', c: 1, data: s10B1, lab: [2014.43, 14.8] },
    { name: '10B.2', c: 2, data: s10B2, lab: [2016.53, 19.8] },
    { name: '10B.3', c: 3, data: s10B3, lab: [2017.47, 16.8] },
    { name: '10B.4', c: 4, data: s10B4, lab: [2018.8, 19.8] },
  ] },
  { title: '(j) Stake 11', yMax: 30, yTicks: ticks30, series: [
    { name: '11A.1', c: 0, data: s11A1, lab: [2011.12, 9.9] },
    { name: '11A.2', c: 1, data: s11A2, lab: [2016.75, 6.8] },
    { name: '11A.3', c: 2, data: s11A3, lab: [2018.62, 9.9] },
  ] },
  { title: '(k) Stake F', yMax: 30, yTicks: ticks30, series: [
    { name: 'FA.1', c: 0, data: sFA1, lab: [2009.99, 9.9] },
    { name: 'FA.2', c: 1, data: sFA2, lab: [2014.43, 9.9] },
    { name: 'FA.3', c: 2, data: sFA3, lab: [2019.1, 9.9] },
  ] },
  { title: '(l) Stake T', yMax: 30, yTicks: ticks30, series: [
    { name: 'TA.1', c: 0, data: sTA1, lab: [2009.99, 15.1] },
    { name: 'TA.2', c: 1, data: sTA2, lab: [2018.82, 21.7] },
  ] },
  { title: '(m) Stake D', yMax: 30, yTicks: ticks30, series: [
    { name: 'DA.1', c: 0, data: sDA1, lab: [2011.43, 14.8] },
  ] },
  { title: '(n) Stake S', yMax: 30, yTicks: ticks30, series: [
    { name: 'SA.1', c: 0, data: sSA1, lab: [2009.21, 16.8] },
    { name: 'SA.2', c: 1, data: sSA2, lab: [2018.4, 2.8] },
  ] },
  { title: '(o) Stake K', yMax: 30, yTicks: ticks30, series: [
    { name: 'KA.1', c: 0, data: sKA1, lab: [2007.26, 17] },
    { name: 'KA.2', c: 1, data: sKA2, lab: [2009.43, 24.8] },
    { name: 'KA.3', c: 2, data: sKA3, lab: [2016.75, 7.9] },
  ] },
]

const W = 1183
const H = 2196
const X0 = 107.4
const X1 = 1101.4
const TOP0 = 7
const STEP = 137.5
const PH = 93.4
const FONT = 'DejaVu Sans, sans-serif'

const App = () => {
  const ref = useRef<SVGSVGElement>(null)

  useEffect(() => {
    document.body.style.margin = '0'
    if (!ref.current) return
    const svg = d3.select(ref.current)
    svg.selectAll('*').remove()

    svg.append('rect').attr('width', W).attr('height', H).attr('fill', '#fff')

    const x = d3.scaleLinear().domain([2006.497, 2019.763]).range([X0, X1])

    panels.forEach((p, i) => {
      const top = TOP0 + i * STEP
      const base = top + PH
      const y = d3.scaleLinear().domain([-0.03 * p.yMax, p.yMax]).range([base, top])
      const yR = p.rMax ? d3.scaleLinear().domain([-0.03 * p.rMax, p.rMax]).range([base, top]) : y

      const g = svg.append('g')

      // grid
      g.append('g')
        .selectAll('line')
        .data(yearTicks)
        .join('line')
        .attr('x1', (d) => x(d))
        .attr('x2', (d) => x(d))
        .attr('y1', top)
        .attr('y2', base)
        .attr('stroke', '#000')
        .attr('stroke-opacity', 0.09)
      g.append('g')
        .selectAll('line')
        .data(p.yTicks)
        .join('line')
        .attr('x1', X0)
        .attr('x2', X1)
        .attr('y1', (d) => y(d))
        .attr('y2', (d) => y(d))
        .attr('stroke', '#000')
        .attr('stroke-opacity', 0.09)

      // clip to the plot area
      const clipId = `clip-${i}`
      svg.append('clipPath').attr('id', clipId)
        .append('rect').attr('x', X0).attr('y', top).attr('width', X1 - X0).attr('height', PH)

      const plot = g.append('g').attr('clip-path', `url(#${clipId})`)

      p.series.forEach((s) => {
        const ys = s.right ? yR : y
        const col = PALETTE[s.c]
        const band = d3.area<number[]>()
          .x((d) => x(d[0]))
          .y0((d) => ys(d[1] - d[2]))
          .y1((d) => ys(d[1] + d[2]))
          .curve(d3.curveStepAfter)
        const line = d3.line<number[]>()
          .x((d) => x(d[0]))
          .y((d) => ys(d[1]))
          .curve(d3.curveStepAfter)
        plot.append('path').datum(s.data).attr('d', band)
          .attr('fill', col).attr('fill-opacity', 0.5).attr('stroke', 'none')
        plot.append('path').datum(s.data).attr('d', line)
          .attr('fill', 'none').attr('stroke', col).attr('stroke-width', 1.3)
      })

      // series labels
      p.series.forEach((s) => {
        const ys = s.right ? yR : y
        g.append('text')
          .attr('x', x(s.lab[0]))
          .attr('y', ys(s.lab[1]))
          .attr('text-anchor', 'middle')
          .attr('dominant-baseline', 'central')
          .style('font-family', FONT)
          .style('font-size', '17px')
          .style('fill', PALETTE[s.c])
          .text(s.name)
      })

      // x axis
      const xa = g.append('g')
        .attr('transform', `translate(0,${base})`)
        .call(
          d3.axisBottom(x)
            .tickValues(yearTicks)
            .tickFormat((d) => `${d}-01`)
            .tickSizeInner(-5)
            .tickSizeOuter(0)
            .tickPadding(20)
        )
      xa.select('.domain').attr('stroke', '#1a1a1a').attr('stroke-width', 1.5)
      xa.selectAll('.tick line').attr('stroke', '#000')
      xa.selectAll('text').style('font-family', FONT).style('font-size', '16px').style('fill', '#000')

      // y axis
      const ya = g.append('g')
        .attr('transform', `translate(${X0},0)`)
        .call(
          d3.axisLeft(y)
            .tickValues(p.yTicks)
            .tickSizeInner(-5)
            .tickSizeOuter(0)
            .tickPadding(29)
        )
      ya.select('.domain').attr('stroke', '#000')
      ya.selectAll('text').style('font-family', FONT).style('font-size', '16px').style('fill', '#000')

      if (p.rMax && p.rTicks) {
        const ra = g.append('g')
          .attr('transform', `translate(${X1},0)`)
          .call(
            d3.axisRight(yR)
              .tickValues(p.rTicks)
              .tickSizeInner(-5)
              .tickSizeOuter(0)
              .tickPadding(31)
          )
        ra.select('.domain').attr('stroke', '#000')
        ra.selectAll('text').style('font-family', FONT).style('font-size', '16px').style('fill', '#000')

        g.append('text')
          .attr('transform', `translate(42,${top + 48}) rotate(-90)`)
          .attr('text-anchor', 'middle')
          .attr('dominant-baseline', 'central')
          .style('font-family', FONT)
          .style('font-size', '16px')
          .text('2A')
        g.append('text')
          .attr('transform', `translate(1173,${top + 46}) rotate(90)`)
          .attr('text-anchor', 'middle')
          .attr('dominant-baseline', 'central')
          .style('font-family', FONT)
          .style('font-size', '16px')
          .text('2B,2C')
      }

      // panel title
      g.append('text')
        .attr('x', 171)
        .attr('y', top + 4)
        .attr('text-anchor', 'middle')
        .attr('dominant-baseline', 'central')
        .style('font-family', FONT)
        .style('font-size', '18px')
        .text(p.title)
    })

    svg.append('text')
      .attr('transform', 'translate(36,995) rotate(-90)')
      .attr('text-anchor', 'middle')
      .style('font-family', FONT)
      .style('font-size', '26px')
      .text('Ice surface velocity (m·a⁻¹)')
  }, [])

  return <svg ref={ref} width={W} height={H} style={{ display: 'block' }} />
}

export default App
